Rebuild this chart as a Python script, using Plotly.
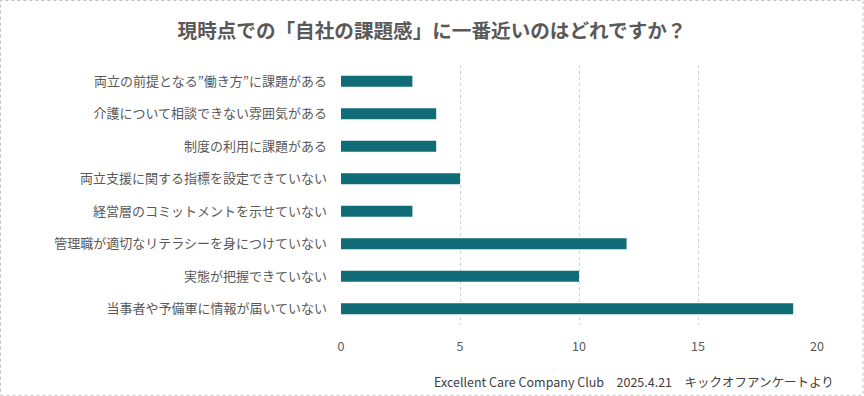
import plotly.graph_objects as go

categories = [
    "両立の前提となる”働き方”に課題がある",
    "介護について相談できない雰囲気がある",
    "制度の利用に課題がある",
    "両立支援に関する指標を設定できていない",
    "経営層のコミットメントを示せていない",
    "管理職が適切なリテラシーを身につけていない",
    "実態が把握できていない",
    "当事者や予備軍に情報が届いていない",
]
values = [3, 4, 4, 5, 3, 12, 10, 19]
tick_vals = [0, 5, 10, 15, 20]
title_text = "現時点での「自社の課題感」に一番近いのはどれですか？"
footer_text = "Excellent Care Company Club　2025.4.21　キックオフアンケートより"

FONT = "Noto Sans CJK JP"

fig = go.Figure(go.Bar(
    x=values,
    y=categories,
    orientation="h",
    marker=dict(color="#106D78", line=dict(width=0)),
    width=0.34,
))

fig.update_layout(
    width=864, height=396,
    margin=dict(l=341, r=47, t=65, b=71),
    paper_bgcolor="white", plot_bgcolor="white",
    font=dict(family=FONT, color="#595959", size=13),
    title=dict(text="<b>" + title_text + "</b>", x=0.5, xanchor="center", y=0.922, yanchor="middle",
               font=dict(family=FONT, size=19.6, color="#595959")),
    showlegend=False,
    xaxis=dict(range=[0, 20], tickvals=tick_vals, showgrid=True, gridcolor="#D0D0D0",
               gridwidth=1, griddash="dot", zeroline=False, showline=False,
               tickfont=dict(size=12.5, color="#595959"), ticks="", ticklabelstandoff=12),
    yaxis=dict(autorange="reversed", showgrid=False, zeroline=False, showline=False,
               ticks="", ticklabelstandoff=13, tickfont=dict(size=13, color="#595959")),
    shapes=[dict(type="rect", xref="paper", yref="paper", x0=-341/476 + 0.001, x1=1+47/476 - 0.002,
                 y0=-71/260+0.003, y1=1+65/260-0.002,
                 line=dict(color="#BFBFBF", width=1, dash="dot"))],
    annotations=[dict(text=footer_text, xref="paper", yref="paper",
                      x=(836-341)/476, xanchor="right", y=-(381-325)/260, yanchor="middle",
                      showarrow=False, font=dict(family=FONT, size=12.5, color="#404040"))],
)

fig.write_html("out.html", config={"displayModeBar": False},
               post_script="document.body.style.margin='0';document.body.style.overflow='hidden';")
